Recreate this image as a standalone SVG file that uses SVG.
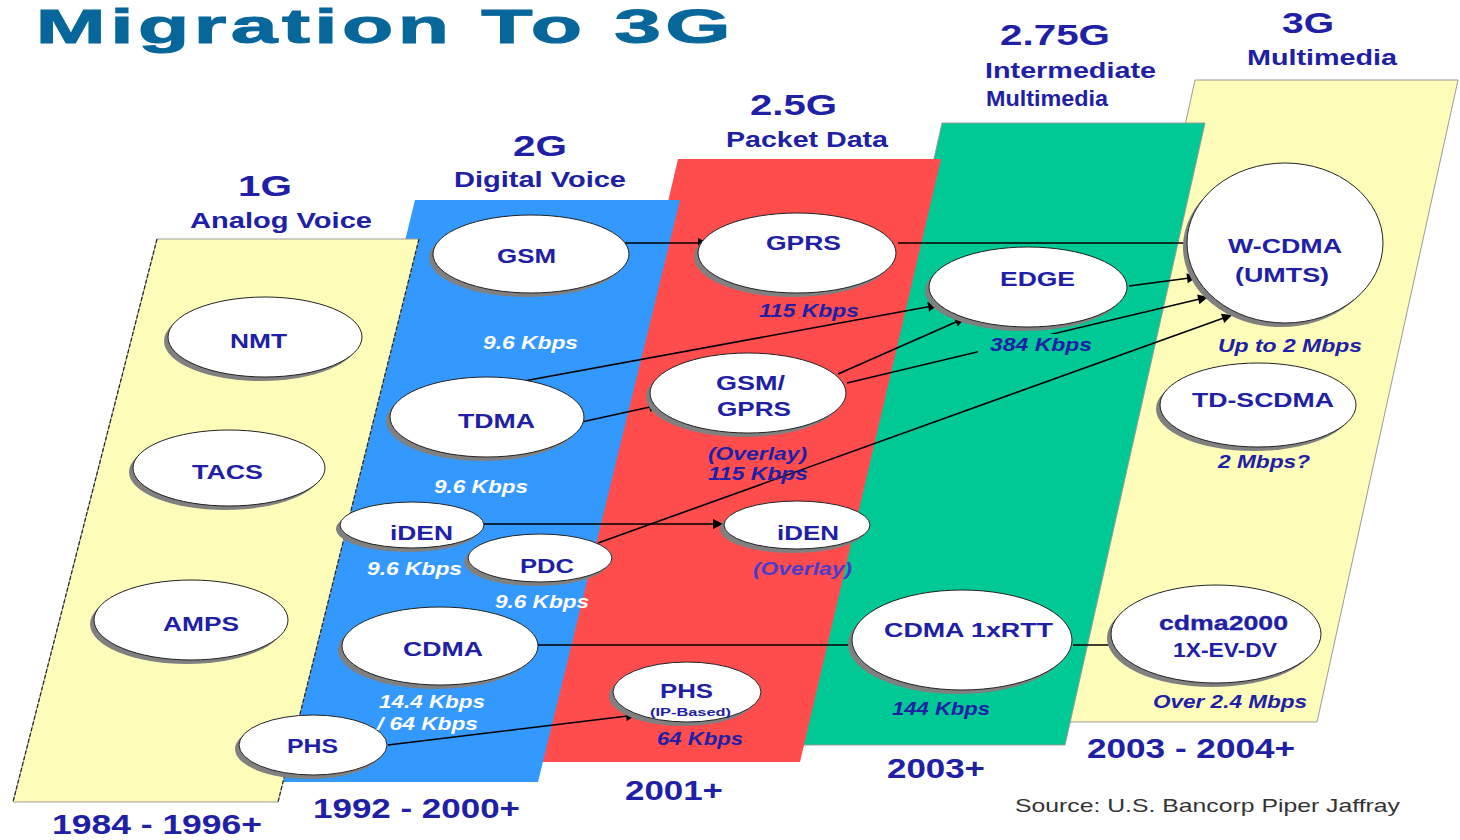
<svg xmlns="http://www.w3.org/2000/svg" width="1460" height="840" viewBox="0 0 1460 840">
<style>
text{font-family:"Liberation Sans",Arial,sans-serif;font-weight:bold;fill:#2020a6}
.title{fill:#07669a;stroke:#07669a;stroke-width:1;font-size:48px}
.hd{font-size:30px}
.sub{font-size:22px}
.yr{font-size:28px}
.lb{font-size:21px}
.sp{font-size:18px;font-style:italic}
.wt{fill:#ffffff}
.ov{fill:#4a3ccc}
.src{font-weight:normal;fill:#333333;font-size:19px}
.sh{fill:#808080}
.el{fill:#ffffff;stroke:#222222;stroke-width:1}
.cn{stroke:#000000;stroke-width:1.6;fill:none;marker-end:url(#ah)}
.yb{fill:#fdfcb8;stroke:#9a9a9a;stroke-width:1}
.dsh{stroke:#222;stroke-width:1.2;stroke-dasharray:4 2;fill:none}
</style>
<defs>
<marker id="ah" viewBox="0 0 10 10" refX="10" refY="5" markerWidth="15" markerHeight="10" markerUnits="userSpaceOnUse" orient="auto"><path d="M0,0 L10,5 L0,10 z" fill="#000"/></marker>
</defs>
<rect width="1460" height="840" fill="#ffffff"/>
<text class="title" transform="scale(1.75 1)" x="20.5" y="43" textLength="397" lengthAdjust="spacing">Migration To 3G</text>

<g id="bands">
<polygon class="yb" points="1195,80 1458,80 1317,722 1054,722"/>
<polygon fill="#00c996" stroke="#9a9a9a" stroke-width="1" points="942,123 1205,123 1065,745 803,745"/>
<polygon fill="#ff4d4d" points="678,159 941,159 800,762 537,762"/>
<polygon fill="#3399ff" points="415,200 680,200 538,782 273,782"/>
<polygon class="yb" points="157,239 419,239 278,802 13,802"/>
<line class="dsh" x1="157" y1="239" x2="13" y2="802"/>
<line class="dsh" x1="419" y1="239" x2="278" y2="802"/>
</g>

<g id="headers">
<text class="hd" x="238" y="196" textLength="54" lengthAdjust="spacingAndGlyphs">1G</text>
<text class="sub" x="190" y="228" textLength="182" lengthAdjust="spacingAndGlyphs">Analog Voice</text>
<text class="hd" x="513" y="156" textLength="54" lengthAdjust="spacingAndGlyphs">2G</text>
<text class="sub" x="454" y="187" textLength="172" lengthAdjust="spacingAndGlyphs">Digital Voice</text>
<text class="hd" x="750" y="115" textLength="87" lengthAdjust="spacingAndGlyphs">2.5G</text>
<text class="sub" x="726" y="147" textLength="162" lengthAdjust="spacingAndGlyphs">Packet Data</text>
<text class="hd" x="1000" y="45" textLength="110" lengthAdjust="spacingAndGlyphs">2.75G</text>
<text class="sub" x="985" y="78" textLength="171" lengthAdjust="spacingAndGlyphs">Intermediate</text>
<text class="sub" x="986" y="106" textLength="122" lengthAdjust="spacingAndGlyphs">Multimedia</text>
<text class="hd" x="1282" y="33" textLength="52" lengthAdjust="spacingAndGlyphs">3G</text>
<text class="sub" x="1247" y="65" textLength="150" lengthAdjust="spacingAndGlyphs">Multimedia</text>
</g>

<g id="years">
<text class="yr" x="52" y="834" textLength="210" lengthAdjust="spacingAndGlyphs">1984 - 1996+</text>
<text class="yr" x="313" y="818" textLength="207" lengthAdjust="spacingAndGlyphs">1992 - 2000+</text>
<text class="yr" x="625" y="800" textLength="98" lengthAdjust="spacingAndGlyphs">2001+</text>
<text class="yr" x="887" y="778" textLength="98" lengthAdjust="spacingAndGlyphs">2003+</text>
<text class="yr" x="1087" y="758" textLength="208" lengthAdjust="spacingAndGlyphs">2003 - 2004+</text>
<text class="src" x="1015" y="812" textLength="385" lengthAdjust="spacingAndGlyphs">Source: U.S. Bancorp Piper Jaffray</text>
</g>

<g id="connectors">
<line class="cn" x1="623" y1="243" x2="708" y2="243"/>
<line class="cn" x1="898" y1="243" x2="1196" y2="243"/>
<line class="cn" x1="1129" y1="286" x2="1197" y2="277"/>
<line class="cn" x1="513" y1="383" x2="938" y2="305"/>
<line class="cn" x1="577" y1="423" x2="659" y2="405"/>
<line class="cn" x1="838" y1="374" x2="965" y2="318"/>
<line class="cn" x1="847" y1="383" x2="1208" y2="297"/>
<line class="cn" x1="598" y1="543" x2="1232" y2="315"/>
<line class="cn" x1="484" y1="524" x2="723" y2="524"/>
<line class="cn" x1="537" y1="645" x2="859" y2="645"/>
<line class="cn" x1="1073" y1="645" x2="1121" y2="645"/>
<line class="cn" x1="388" y1="745" x2="636" y2="715"/>
</g>

<g id="n-nmt"><ellipse class="sh" cx="261" cy="341" rx="97" ry="40"/><ellipse class="el" cx="265" cy="337" rx="97" ry="40"/><text class="lb" x="230" y="348" textLength="57" lengthAdjust="spacingAndGlyphs">NMT</text></g>
<g id="n-tacs"><ellipse class="sh" cx="225" cy="472" rx="96" ry="38"/><ellipse class="el" cx="229" cy="468" rx="96" ry="38"/><text class="lb" x="192" y="479" textLength="71" lengthAdjust="spacingAndGlyphs">TACS</text></g>
<g id="n-amps"><ellipse class="sh" cx="187" cy="624" rx="97" ry="40"/><ellipse class="el" cx="191" cy="620" rx="97" ry="40"/><text class="lb" x="163" y="631" textLength="76" lengthAdjust="spacingAndGlyphs">AMPS</text></g>
<g id="n-phs1"><ellipse class="sh" cx="309" cy="749" rx="74" ry="30"/><ellipse class="el" cx="313" cy="745" rx="74" ry="30"/><text class="lb" x="287" y="753" textLength="51" lengthAdjust="spacingAndGlyphs">PHS</text></g>

<g id="n-gsm"><ellipse class="sh" cx="527" cy="258" rx="98" ry="39"/><ellipse class="el" cx="531" cy="254" rx="98" ry="39"/><text class="lb" x="497" y="263" textLength="59" lengthAdjust="spacingAndGlyphs">GSM</text><text class="sp wt" x="483" y="349" textLength="95" lengthAdjust="spacingAndGlyphs">9.6 Kbps</text></g>
<g id="n-tdma"><ellipse class="sh" cx="483" cy="421" rx="97" ry="40"/><ellipse class="el" cx="487" cy="417" rx="97" ry="40"/><text class="lb" x="458" y="428" textLength="77" lengthAdjust="spacingAndGlyphs">TDMA</text><text class="sp wt" x="434" y="493" textLength="94" lengthAdjust="spacingAndGlyphs">9.6 Kbps</text></g>
<g id="n-iden2"><ellipse class="sh" cx="408" cy="529" rx="72" ry="23"/><ellipse class="el" cx="412" cy="525" rx="72" ry="23"/><text class="lb" x="390" y="540" textLength="63" lengthAdjust="spacingAndGlyphs">iDEN</text><text class="sp wt" x="367" y="575" textLength="95" lengthAdjust="spacingAndGlyphs">9.6 Kbps</text></g>
<g id="n-pdc"><ellipse class="sh" cx="536" cy="562" rx="72" ry="24"/><ellipse class="el" cx="540" cy="558" rx="72" ry="24"/><text class="lb" x="520" y="573" textLength="54" lengthAdjust="spacingAndGlyphs">PDC</text><text class="sp wt" x="495" y="608" textLength="94" lengthAdjust="spacingAndGlyphs">9.6 Kbps</text></g>
<g id="n-cdma"><ellipse class="sh" cx="436" cy="650" rx="98" ry="39"/><ellipse class="el" cx="440" cy="646" rx="98" ry="39"/><text class="lb" x="403" y="656" textLength="80" lengthAdjust="spacingAndGlyphs">CDMA</text><text class="sp wt" x="379" y="708" textLength="106" lengthAdjust="spacingAndGlyphs">14.4 Kbps</text><text class="sp wt" x="377" y="730" textLength="101" lengthAdjust="spacingAndGlyphs">/ 64 Kbps</text></g>

<g id="n-gprs"><ellipse class="sh" cx="793" cy="257" rx="99" ry="40"/><ellipse class="el" cx="797" cy="253" rx="99" ry="40"/><text class="lb" x="766" y="250" textLength="75" lengthAdjust="spacingAndGlyphs">GPRS</text><text class="sp" x="759" y="317" textLength="100" lengthAdjust="spacingAndGlyphs">115 Kbps</text></g>
<g id="n-gsmgprs"><ellipse class="sh" cx="744" cy="397" rx="98" ry="40"/><ellipse class="el" cx="748" cy="393" rx="98" ry="40"/><text class="lb" x="716" y="390" textLength="69" lengthAdjust="spacingAndGlyphs">GSM/</text><text class="lb" x="717" y="416" textLength="74" lengthAdjust="spacingAndGlyphs">GPRS</text><text class="sp" x="708" y="460" textLength="99" lengthAdjust="spacingAndGlyphs">(Overlay)</text><text class="sp" x="708" y="480" textLength="100" lengthAdjust="spacingAndGlyphs">115 Kbps</text></g>
<g id="n-iden25"><ellipse class="sh" cx="793" cy="529" rx="73" ry="24"/><ellipse class="el" cx="797" cy="525" rx="73" ry="24"/><text class="lb" x="777" y="540" textLength="62" lengthAdjust="spacingAndGlyphs">iDEN</text><text class="sp ov" x="753" y="575" textLength="99" lengthAdjust="spacingAndGlyphs">(Overlay)</text></g>
<g id="n-phs25"><ellipse class="sh" cx="683" cy="696" rx="74" ry="30"/><ellipse class="el" cx="687" cy="692" rx="74" ry="30"/><text class="lb" x="660" y="698" textLength="53" lengthAdjust="spacingAndGlyphs">PHS</text><text x="650" y="716" font-size="10" textLength="81" lengthAdjust="spacingAndGlyphs">(IP-Based)</text><text class="sp" x="657" y="745" textLength="86" lengthAdjust="spacingAndGlyphs">64 Kbps</text></g>

<g id="n-edge"><ellipse class="sh" cx="1024" cy="291" rx="99" ry="40"/><ellipse class="el" cx="1028" cy="287" rx="99" ry="40"/><text class="lb" x="1000" y="286" textLength="75" lengthAdjust="spacingAndGlyphs">EDGE</text><rect x="978" y="334" width="110" height="22" fill="#00c996"/><text class="sp" x="990" y="351" textLength="102" lengthAdjust="spacingAndGlyphs">384 Kbps</text></g>
<g id="n-1xrtt"><ellipse class="sh" cx="958" cy="644" rx="110" ry="50"/><ellipse class="el" cx="962" cy="640" rx="110" ry="50"/><text class="lb" x="884" y="637" textLength="169" lengthAdjust="spacingAndGlyphs">CDMA 1xRTT</text><text class="sp" x="892" y="715" textLength="98" lengthAdjust="spacingAndGlyphs">144 Kbps</text></g>

<g id="n-wcdma"><ellipse class="sh" cx="1281" cy="247" rx="98" ry="80"/><ellipse class="el" cx="1285" cy="243" rx="98" ry="80"/><text class="lb" x="1228" y="253" textLength="114" lengthAdjust="spacingAndGlyphs">W-CDMA</text><text class="lb" x="1235" y="282" textLength="94" lengthAdjust="spacingAndGlyphs">(UMTS)</text><text class="sp" x="1218" y="352" textLength="144" lengthAdjust="spacingAndGlyphs">Up to 2 Mbps</text></g>
<g id="n-tdscdma"><ellipse class="sh" cx="1254" cy="409" rx="98" ry="42"/><ellipse class="el" cx="1258" cy="405" rx="98" ry="42"/><text class="lb" x="1192" y="407" textLength="142" lengthAdjust="spacingAndGlyphs">TD-SCDMA</text><text class="sp" x="1218" y="468" textLength="92" lengthAdjust="spacingAndGlyphs">2 Mbps?</text></g>
<g id="n-cdma2000"><ellipse class="sh" cx="1212" cy="638" rx="105" ry="49"/><ellipse class="el" cx="1216" cy="634" rx="105" ry="49"/><text x="1159" y="630" font-size="20" font-weight="normal" stroke="#2020a6" stroke-width="0.3" textLength="129" lengthAdjust="spacingAndGlyphs">cdma2000</text><text x="1173" y="657" font-size="20" font-weight="normal" textLength="104" lengthAdjust="spacingAndGlyphs">1X-EV-DV</text><text class="sp" x="1153" y="708" textLength="154" lengthAdjust="spacingAndGlyphs">Over 2.4 Mbps</text></g>
</svg>
